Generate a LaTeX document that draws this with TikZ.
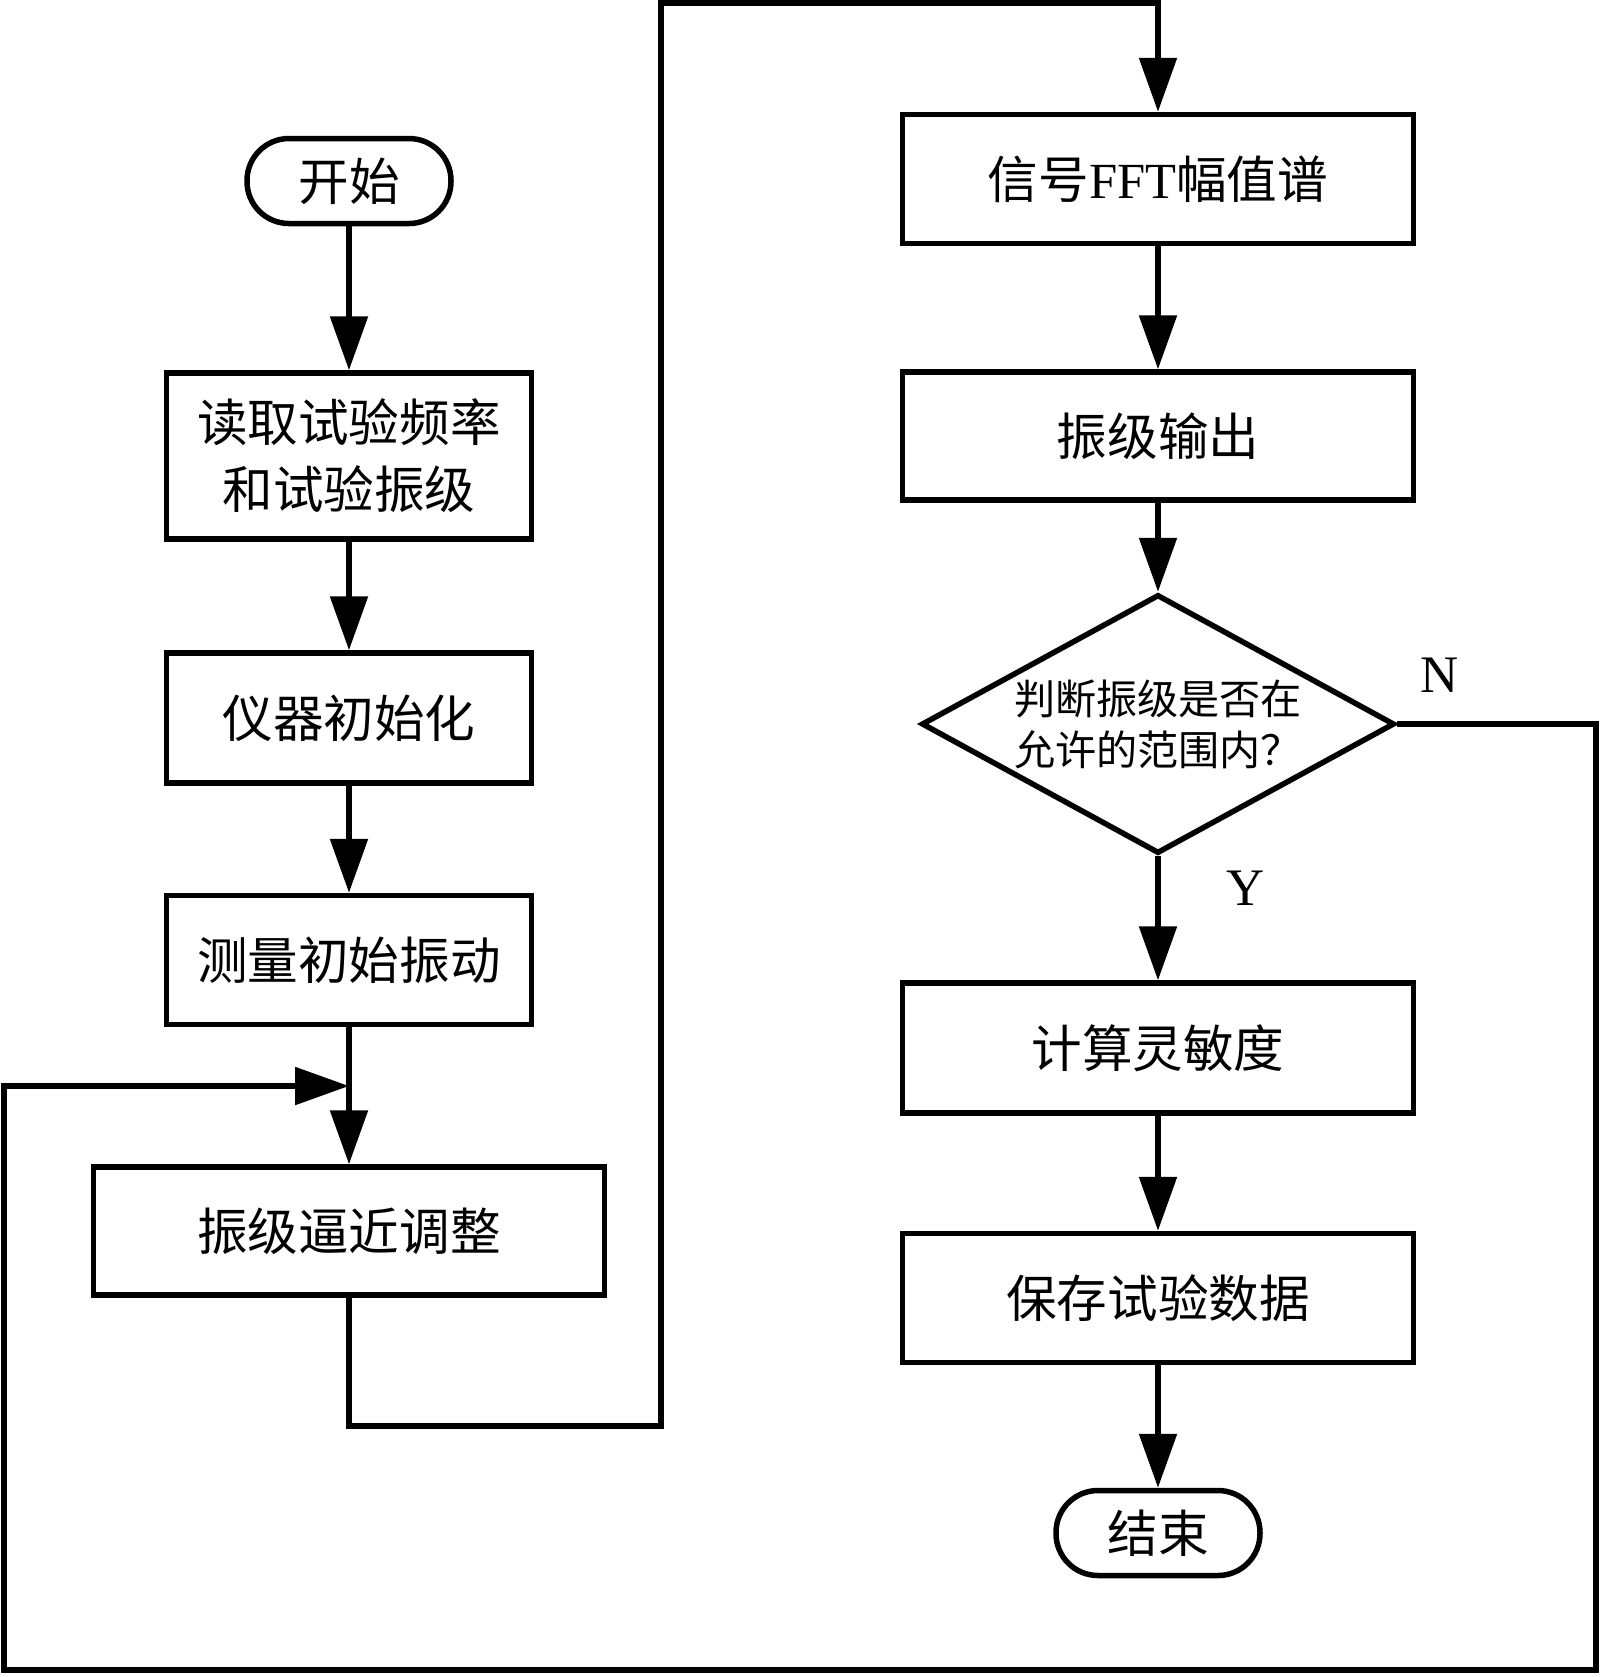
\documentclass[tikz,border=0pt]{standalone}
\usepackage{fontspec}
\setmainfont{Liberation Serif}
\newfontfamily\cjk{Noto Sans CJK SC}
\usetikzlibrary{arrows.meta,shapes.geometric}

\begin{document}
\begin{tikzpicture}[x=0.1mm, y=-0.1mm, line width=0.55mm,
  proc/.style={draw, rectangle, inner sep=0pt, align=center, font=\cjk\fontsize{14.4}{19}\selectfont},
  term/.style={draw, rectangle, rounded corners=4.2mm, inner sep=0pt, minimum width=20.4mm, minimum height=8.5mm, font=\cjk\fontsize{14.4}{19}\selectfont},
  test/.style={draw, diamond, aspect=1.81, inner sep=0pt, minimum width=47.3mm, minimum height=25.9mm, align=center, font=\cjk\fontsize{11.7}{14.5}\selectfont},
  yn/.style={font=\fontsize{15}{18}\selectfont},
  arr/.style={-{Triangle[length=5.4mm, width=3.7mm]}}]
\useasboundingbox (0,0) rectangle (1600,1677);
% left column
\node[term] (start) at (349,181) {开始};
\node[proc, minimum width=36.5mm, minimum height=16.6mm] (read) at (349,456) {读取试验频率\\和试验振级};
\node[proc, minimum width=36.5mm, minimum height=13mm] (init) at (349,718) {仪器初始化};
\node[proc, minimum width=36.5mm, minimum height=12.9mm] (meas) at (349,960) {测量初始振动};
\node[proc, minimum width=51.1mm, minimum height=12.8mm] (adjust) at (349,1231) {振级逼近调整};
\coordinate (j) at (349,1086);
% right column
\node[proc, minimum width=51.1mm, minimum height=12.9mm] (fft) at (1158,179) {信号{\rmfamily FFT}幅值谱};
\node[proc, minimum width=51.1mm, minimum height=12.8mm] (out) at (1158,436) {振级输出};
\node[test] (judge) at (1158,724) {判断振级是否在\\允许的范围内？};
\node[proc, minimum width=51.1mm, minimum height=13mm] (sens) at (1158,1048) {计算灵敏度};
\node[proc, minimum width=51.1mm, minimum height=12.9mm] (save) at (1158,1298) {保存试验数据};
\node[term] (finish) at (1158,1533) {结束};
\node[yn] (nlab) at (1440,675) {N};
\node[yn] (ylab) at (1246,888) {Y};

\draw[arr] (start) -- (read);
\draw[arr] (read) -- (init);
\draw[arr] (init) -- (meas);
\draw[arr] (meas) -- (adjust);
\draw[arr] (adjust.south) |- (661,1426) -- (661,3) -| (fft.north);
\draw[arr] (fft) -- (out);
\draw[arr] (out) -- (judge);
\draw[arr] (judge) -- (sens);
\draw[arr] (sens) -- (save);
\draw[arr] (save) -- (finish);
\draw[arr] (judge.east) -| (1596,1670) -- (4,1670) |- (j);
\end{tikzpicture}
\end{document}
